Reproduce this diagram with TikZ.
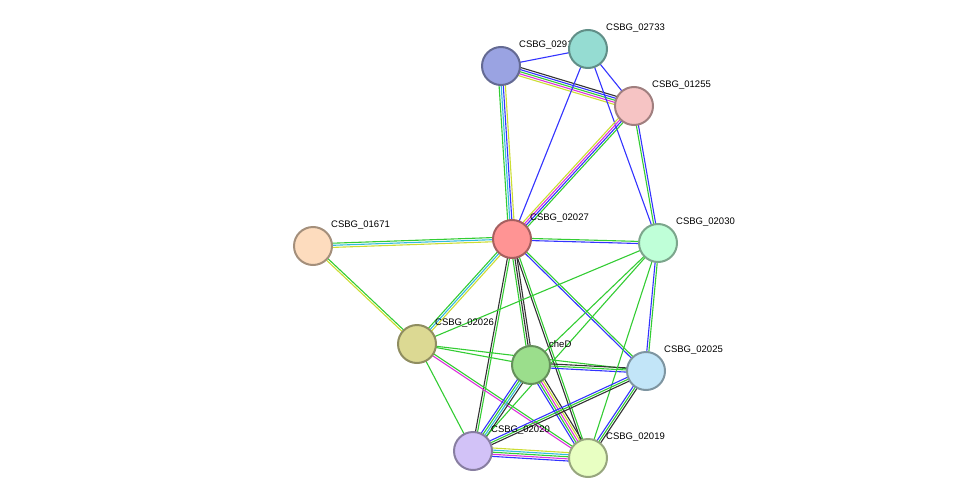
\documentclass[tikz,border=0pt]{standalone}
\usepackage{fontspec}
\setmainfont{Liberation Sans}
\usetikzlibrary{calc}
\pgfdeclarelayer{bg}
\pgfsetlayers{bg,main}
\definecolor{eg}{HTML}{33CC33}
\definecolor{eb}{HTML}{3333FF}
\definecolor{ey}{HTML}{CCDD33}
\definecolor{em}{HTML}{DD33DD}
\definecolor{ec}{HTML}{33BBDD}
\definecolor{ek}{HTML}{333333}
\tikzset{
  prot/.style={circle,minimum size=38pt,inner sep=0pt,line width=2pt,fill=#1,draw=#1!65!black},
  lab/.style={anchor=west,font=\fontsize{9.5pt}{11pt}\selectfont,text=black,inner sep=0pt},
  eline/.style={line width=1.1pt}
}
\newcommand\sedge[3]{%
  \foreach \cc [count=\nn] in {#3}{\xdef\ncnt{\nn}}%
  \foreach \cc [count=\ii] in {#3}{%
    \pgfmathsetmacro\off{(\ii-(\ncnt+1)/2)*2.1}%
    \draw[eline,\cc] ($(#1)!\off pt!90:(#2)$) -- ($(#2)!\off pt!-90:(#1)$);
  }}
\newcommand\prot[5]{%
  \node[prot=#4] (#1) at (#2pt,-#3pt) {};
  \node[lab] (#1l) at (#2pt+18pt,-#3pt+21pt) {#5};}
\begin{document}
\begin{tikzpicture}
\useasboundingbox (0,0) rectangle (976pt,-503pt);
\definecolor{c1}{HTML}{9AA3E2}
\definecolor{c2}{HTML}{95DCD2}
\definecolor{c3}{HTML}{F6C4C4}
\definecolor{c4}{HTML}{FF9494}
\definecolor{c5}{HTML}{BFFFD8}
\definecolor{c6}{HTML}{FDDCBE}
\definecolor{c7}{HTML}{DCD993}
\definecolor{c8}{HTML}{9BDE8C}
\definecolor{c9}{HTML}{C2E5F8}
\definecolor{c10}{HTML}{D2C2F7}
\definecolor{c11}{HTML}{E8FFC2}
\prot{n02916}{501}{66}{c1}{CSBG\_02916}
\prot{n02733}{588}{49}{c2}{CSBG\_02733}
\prot{n01255}{634}{106}{c3}{CSBG\_01255}
\prot{n02027}{512}{239}{c4}{CSBG\_02027}
\prot{n02030}{658}{243}{c5}{CSBG\_02030}
\prot{n01671}{313}{246}{c6}{CSBG\_01671}
\prot{n02026}{417}{344}{c7}{CSBG\_02026}
\prot{cheD}{531}{365}{c8}{cheD}
\prot{n02025}{646}{371}{c9}{CSBG\_02025}
\prot{n02020}{473}{451}{c10}{CSBG\_02020}
\prot{n02019}{588}{458}{c11}{CSBG\_02019}
\begin{pgfonlayer}{bg}
\sedge{n02916}{n02733}{eb}
\sedge{n02916}{n01255}{ey,em,eg,eb,ek}
\sedge{n02733}{n01255}{eb}
\sedge{n02733}{n02030}{eb}
\sedge{n02733}{n02027}{eb}
\sedge{n02916}{n02027}{eg,ec,eb,ey}
\sedge{n01255}{n02027}{ey,em,eb,eg}
\sedge{n01255}{n02030}{eg,eb}
\sedge{n02027}{n02030}{eb,eg}
\sedge{n02027}{n01671}{eg,ec,ey}
\sedge{n02027}{n02026}{eg,ec,ey}
\sedge{n02027}{cheD}{eg,ek,ek}
\sedge{n02027}{n02025}{eb,eg}
\sedge{n02027}{n02020}{ek,eg}
\sedge{n02027}{n02019}{ek,eg}
\sedge{n01671}{n02026}{ey,eg}
\sedge{n02026}{n02030}{eg}
\sedge{n02026}{cheD}{eg}
\sedge{n02026}{n02025}{eg}
\sedge{n02026}{n02019}{em,eg}
\sedge{n02026}{n02020}{eg}
\sedge{cheD}{n02030}{eg}
\sedge{cheD}{n02025}{eb,eg,ek}
\sedge{cheD}{n02020}{eb,eg,ec,ek}
\sedge{cheD}{n02019}{eb,eg,em,ey,ek}
\sedge{n02030}{n02025}{eb,eg}
\sedge{n02030}{n02019}{eg}
\sedge{n02030}{n02020}{eg}
\sedge{n02025}{n02020}{eb,eg,ek}
\sedge{n02025}{n02019}{eb,eg,ek}
\sedge{n02020}{n02019}{eb,em,eg,ec,ey}
\end{pgfonlayer}
\end{tikzpicture}
\end{document}
